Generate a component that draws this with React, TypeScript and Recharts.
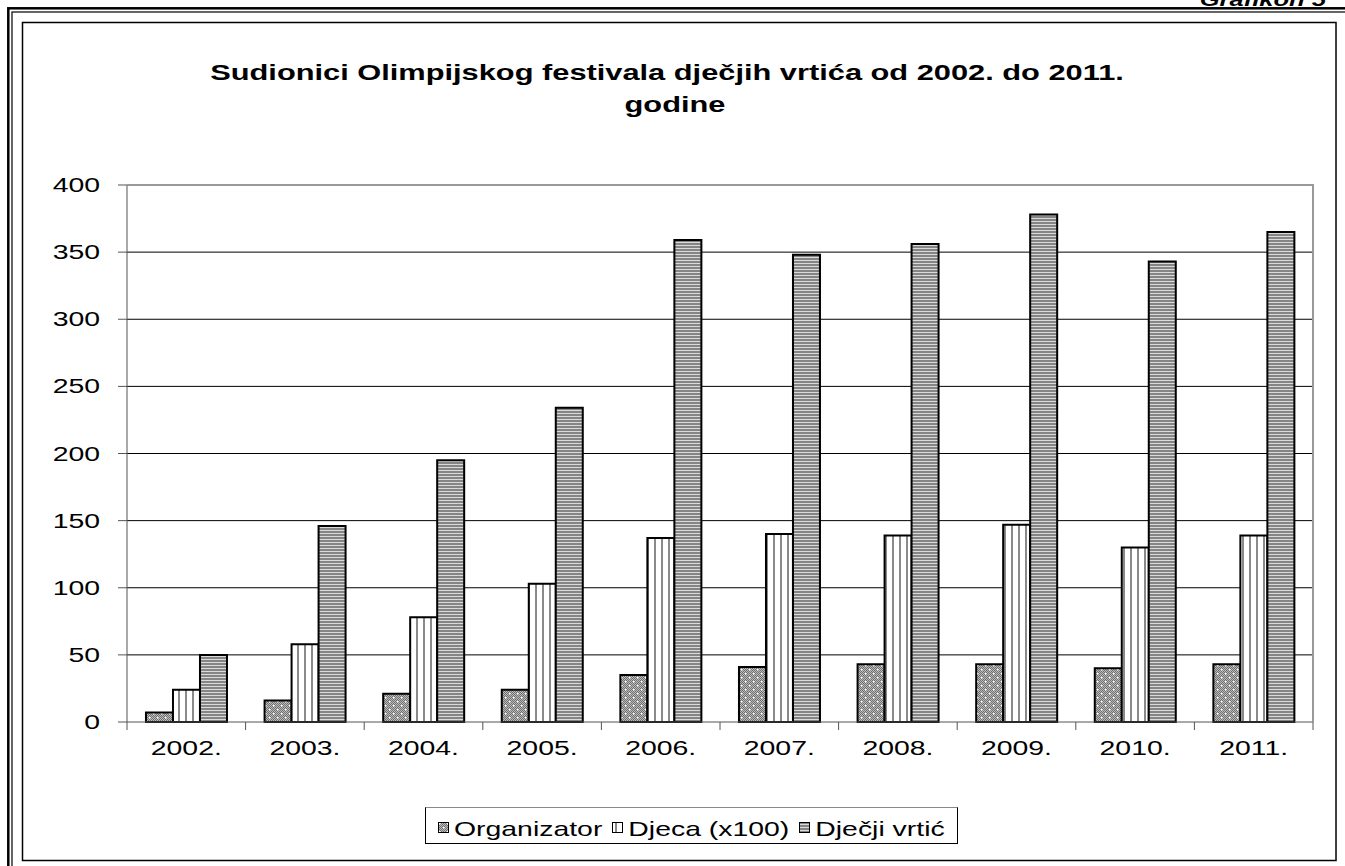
import React from 'react';
import { BarChart, Bar, XAxis, YAxis, CartesianGrid } from 'recharts';

const YEARS = ['2002.', '2003.', '2004.', '2005.', '2006.', '2007.', '2008.', '2009.', '2010.', '2011.'];
const ORGANIZATOR = [7, 16, 21, 24, 35, 41, 43, 43, 40, 43];
const DJECA = [24, 58, 78, 103, 137, 140, 139, 147, 130, 139];
const VRTIC = [50, 146, 195, 234, 359, 348, 356, 378, 343, 365];
const Y_TICKS = [0, 50, 100, 150, 200, 250, 300, 350, 400];
const GRID_VALUES = [50, 100, 150, 200, 250, 300, 350];
const TITLE_LINES = ['Sudionici Olimpijskog festivala dječjih vrtića od 2002. do 2011.', 'godine'];

const SERIES = [
  { key: 'org', name: 'Organizator', pattern: 'pat-org' },
  { key: 'djeca', name: 'Djeca (x100)', pattern: 'pat-djeca' },
  { key: 'vrtic', name: 'Dječji vrtić', pattern: 'pat-vrtic' },
];

const data = YEARS.map((year, i) => ({
  year,
  org: ORGANIZATOR[i],
  djeca: DJECA[i],
  vrtic: VRTIC[i],
}));

const W = 1345;
const H = 866;
const FONT = '"Liberation Sans", Arial, sans-serif';
const SX = 1.42; // the picture is stretched sideways
const AXIS = '#555';

// plot area
const PLOT_L = 127;
const PLOT_R = 1313;
const PLOT_T = 185;
const PLOT_B = 722;

function WideText({ x, y, anchor = 'middle', size = 20, weight = 'normal', italic = false, children }: any) {
  return (
    <text
      transform={`translate(${x},${y}) scale(${SX},1)`}
      textAnchor={anchor}
      fontSize={size}
      fontWeight={weight}
      fontStyle={italic ? 'italic' : 'normal'}
      fontFamily={FONT}
      fill="#000"
    >
      {children}
    </text>
  );
}

const YTick = ({ x, y, payload }: any) => (
  <WideText x={x} y={y + 7} anchor="end">
    {payload.value}
  </WideText>
);

const XTick = ({ x, y, payload, index }: any) => {
  const half = payload.offset || (PLOT_R - PLOT_L) / YEARS.length / 2;
  return (
    <g>
      <line x1={x - half} x2={x - half} y1={y} y2={y + 8} stroke={AXIS} />
      {index === YEARS.length - 1 && <line x1={x + half} x2={x + half} y1={y} y2={y + 8} stroke={AXIS} />}
      <WideText x={x} y={y + 33}>
        {payload.value}
      </WideText>
    </g>
  );
};

function Patterns() {
  const checker: React.ReactNode[] = [];
  for (let i = 0; i < 8; i++) {
    for (let j = 0; j < 8; j++) {
      if ((i + j) % 2 === 0) checker.push(<rect key={`${i}-${j}`} x={i} y={j} width={1} height={1} fill="#6f6f6f" />);
    }
  }
  return (
    <defs>
      <pattern id="pat-org" width={8} height={8} patternUnits="userSpaceOnUse">
        <rect width={8} height={8} fill="#bcbcbc" />
        {checker}
        <rect x={1} y={1} width={1.5} height={1.5} fill="#fff" />
        <rect x={5} y={5} width={1.5} height={1.5} fill="#fff" />
      </pattern>
      <pattern id="pat-djeca" width={7} height={10} patternUnits="userSpaceOnUse">
        <rect width={7} height={10} fill="#fff" />
        <rect x={3} width={2} height={10} fill="#8a8a8a" />
      </pattern>
      <pattern id="pat-vrtic" width={10} height={3} patternUnits="userSpaceOnUse">
        <rect width={10} height={3} fill="#858585" />
        <rect y={2} width={10} height={1} fill="#dadada" />
      </pattern>
    </defs>
  );
}

function LegendBox() {
  return (
    <div
      style={{
        position: 'absolute',
        left: 425,
        top: 807,
        height: 37,
        boxSizing: 'border-box',
        border: '1px solid #000',
        borderTopColor: '#888',
        background: '#fff',
        display: 'flex',
        alignItems: 'center',
        padding: '0 12px',
        fontFamily: FONT,
        whiteSpace: 'nowrap',
      }}
    >
      {SERIES.map((s, i) => (
        <div key={s.key} style={{ display: 'flex', alignItems: 'center', marginLeft: i === 0 ? 0 : 10 }}>
          <svg width={11} height={11} style={{ display: 'block', position: 'relative', top: 2 }}>
            <rect x={0.5} y={0.5} width={10} height={10} fill={`url(#${s.pattern})`} stroke="#000" />
          </svg>
          <span
            style={{
              display: 'inline-block',
              fontSize: 20 * SX,
              lineHeight: '20px',
              marginLeft: 5,
              transform: `scaleY(${1 / SX})`,
              position: 'relative',
              top: 3,
            }}
          >
            {s.name}
          </span>
        </div>
      ))}
    </div>
  );
}

export default function App() {
  return (
    <div style={{ position: 'absolute', left: 0, top: 0, width: W, height: H, background: '#fff', overflow: 'hidden' }}>
      <BarChart
        width={W}
        height={H}
        data={data}
        margin={{ top: PLOT_T, right: W - PLOT_R, left: PLOT_L - 60, bottom: H - PLOT_B - 40 }}
        barCategoryGap="16%"
        barGap={0}
      >
        <CartesianGrid vertical={false} stroke="#000" horizontalValues={GRID_VALUES} />
        <XAxis
          dataKey="year"
          height={40}
          tickLine={false}
          tickSize={0}
          tickMargin={0}
          interval={0}
          axisLine={{ stroke: AXIS }}
          tick={<XTick />}
        />
        <YAxis
          width={60}
          domain={[0, 400]}
          ticks={Y_TICKS}
          tickSize={9}
          tickMargin={18}
          interval={0}
          axisLine={{ stroke: AXIS }}
          tickLine={{ stroke: AXIS }}
          tick={<YTick />}
        />
        {SERIES.map((s) => (
          <Bar
            key={s.key}
            dataKey={s.key}
            name={s.name}
            fill={`url(#${s.pattern})`}
            stroke="#000"
            strokeWidth={2}
            isAnimationActive={false}
          />
        ))}
      </BarChart>

      <svg width={W} height={H} style={{ position: 'absolute', left: 0, top: 0, pointerEvents: 'none' }}>
        <Patterns />
        {/* double page frame */}
        <rect x={8.3} y={8.3} width={W + 20} height={H + 20} fill="none" stroke="#000" strokeWidth={2.5} />
        <rect x={12} y={12} width={W + 20} height={H + 20} fill="none" stroke="#000" strokeWidth={1.2} />
        {/* chart box */}
        <rect x={22.5} y={22.5} width={1313.5} height={838} fill="none" stroke="#000" strokeWidth={1.5} />
        {/* plot border top/right */}
        <line x1={PLOT_L} x2={PLOT_R + 1} y1={PLOT_T} y2={PLOT_T} stroke="#999" strokeWidth={2} />
        <line x1={PLOT_R} x2={PLOT_R} y1={PLOT_T} y2={PLOT_B} stroke="#999" strokeWidth={2} />
        {/* caption above the frame, cut at the page edge like the original */}
        <WideText x={1326} y={6} anchor="end" size={18} weight="bold" italic>
          Grafikon 5
        </WideText>
        <WideText x={667} y={80} size={21.7} weight="bold">
          {TITLE_LINES[0]}
        </WideText>
        <WideText x={675} y={112} size={21.7} weight="bold">
          {TITLE_LINES[1]}
        </WideText>
      </svg>

      <LegendBox />
    </div>
  );
}
